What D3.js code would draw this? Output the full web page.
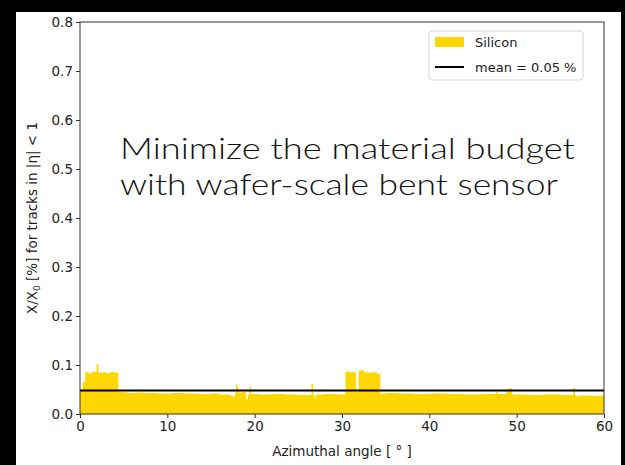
<!DOCTYPE html>
<html><head><meta charset="utf-8">
<script src="https://cdn.jsdelivr.net/npm/d3@7"></script>
<style>
html,body{margin:0;padding:0;background:#000;}
svg{display:block;}
</style></head>
<body>
<svg id="chart" width="625" height="465"></svg>
<script>
// ---- data ----
const binStarts = [0.0,0.3,0.6,1.0,1.4,1.9,2.1,2.6,3.0,3.5,3.9,4.4,5.0,5.5,6.5,7.5,9.0,10.5,12.0,13.5,15.0,16.0,17.2,17.5,17.7,17.85,18.0,18.15,18.6,19.0,19.2,19.4,19.6,20.5,22.0,23.5,25.0,26.5,26.7,26.85,27.0,28.0,29.5,30.4,30.9,31.6,31.9,32.2,32.5,33.0,33.5,34.0,34.4,35.0,36.5,38.0,40.0,42.0,44.0,46.0,47.6,47.8,48.8,49.0,49.5,51.0,53.0,55.0,56.5,56.7,56.85,57.0,58.5,60.0];
const binValues = [0.047,0.066,0.085,0.083,0.086,0.102,0.084,0.085,0.083,0.086,0.084,0.045,0.044,0.043,0.044,0.043,0.042,0.043,0.042,0.041,0.042,0.040,0.038,0.034,0.041,0.061,0.054,0.044,0.046,0.030,0.040,0.055,0.041,0.040,0.041,0.040,0.039,0.061,0.040,0.033,0.040,0.041,0.040,0.086,0.085,0.045,0.088,0.090,0.085,0.084,0.085,0.082,0.042,0.043,0.042,0.041,0.042,0.041,0.040,0.041,0.046,0.041,0.050,0.052,0.040,0.039,0.040,0.039,0.053,0.039,0.035,0.038,0.037,0.037];
const meanValue = 0.048;
const xTicks = [0,10,20,30,40,50,60];
const yTicks = [0.0,0.1,0.2,0.3,0.4,0.5,0.6,0.7,0.8];
const seriesLabel = "Silicon";
const meanLabel = "mean = 0.05 %";
const annotation = ["Minimize the material budget","with wafer-scale bent sensor"];

// ---- layout ----
const svg = d3.select("#chart");
svg.append("rect").attr("x",16).attr("y",12).attr("width",605).attr("height",453).attr("fill","#fff");

const L=80,R=604,T=22,B=414;
const x = d3.scaleLinear().domain([0,60]).range([L,R]);
const y = d3.scaleLinear().domain([0,0.8]).range([B,T]);

const pts = binStarts.map((s,i)=>({x:s,v:binValues[i]}));
const area = d3.area().curve(d3.curveStepAfter).x(d=>x(d.x)).y0(y(0)).y1(d=>y(d.v));
svg.append("path").datum(pts).attr("d",area).attr("fill","#FFD700").attr("stroke","none");

svg.append("line").attr("x1",x(0)).attr("x2",x(60)).attr("y1",y(meanValue)).attr("y2",y(meanValue))
  .attr("stroke","#000").attr("stroke-width",2.2);

// frame
svg.append("rect").attr("x",L).attr("y",T).attr("width",R-L).attr("height",B-T)
  .attr("fill","none").attr("stroke","#333").attr("stroke-width",1);

const font = "DejaVu Sans, sans-serif";
const xAxis = svg.append("g").attr("transform",`translate(0,${B})`)
  .call(d3.axisBottom(x).tickValues(xTicks).tickFormat(d3.format("d")).tickSize(4).tickPadding(3));
const yAxis = svg.append("g").attr("transform",`translate(${L},0)`)
  .call(d3.axisLeft(y).tickValues(yTicks).tickFormat(d3.format(".1f")).tickSize(4).tickPadding(3));
[xAxis,yAxis].forEach(g=>{
  g.select(".domain").remove();
  g.selectAll("line").attr("stroke","#333");
  g.selectAll("text").attr("font-family",font).attr("font-size",13.5).attr("fill","#222");
});

// axis labels
svg.append("text").attr("x",(L+R)/2).attr("y",456).attr("text-anchor","middle")
  .attr("font-family",font).attr("font-size",13.5).attr("fill","#222").text("Azimuthal angle [ ° ]");
const yl = svg.append("text").attr("transform",`translate(37,${(T+B)/2}) rotate(-90)`)
  .attr("text-anchor","middle").attr("font-family",font).attr("font-size",13.5).attr("fill","#222");
yl.append("tspan").text("X/X");
yl.append("tspan").attr("font-size",9).attr("dy",3).text("0");
yl.append("tspan").attr("dy",-3).text(" [%] for tracks in |η| < 1");

// legend
const lg = svg.append("g");
lg.append("rect").attr("x",429).attr("y",31).attr("width",154).attr("height",49).attr("rx",3)
  .attr("fill","#fff").attr("stroke","#d5d5d5").attr("stroke-width",1);
lg.append("rect").attr("x",435).attr("y",37).attr("width",29).attr("height",10).attr("fill","#FFD700");
lg.append("text").attr("x",475).attr("y",47).attr("font-family",font).attr("font-size",13).attr("fill","#222").text(seriesLabel);
lg.append("line").attr("x1",435).attr("x2",464).attr("y1",67).attr("y2",67).attr("stroke","#000").attr("stroke-width",2);
lg.append("text").attr("x",475).attr("y",72).attr("font-family",font).attr("font-size",13).attr("fill","#222").text(meanLabel);

// annotation
const widths=[455,438];
annotation.forEach((t,i)=>{
  svg.append("text").attr("x",120).attr("y",159+36*i).attr("font-family","Lato, sans-serif")
    .attr("font-weight",300)
    .attr("font-size",29).attr("fill","#111").attr("textLength",widths[i]).attr("lengthAdjust","spacingAndGlyphs").text(t);
});
</script>
</body></html>
